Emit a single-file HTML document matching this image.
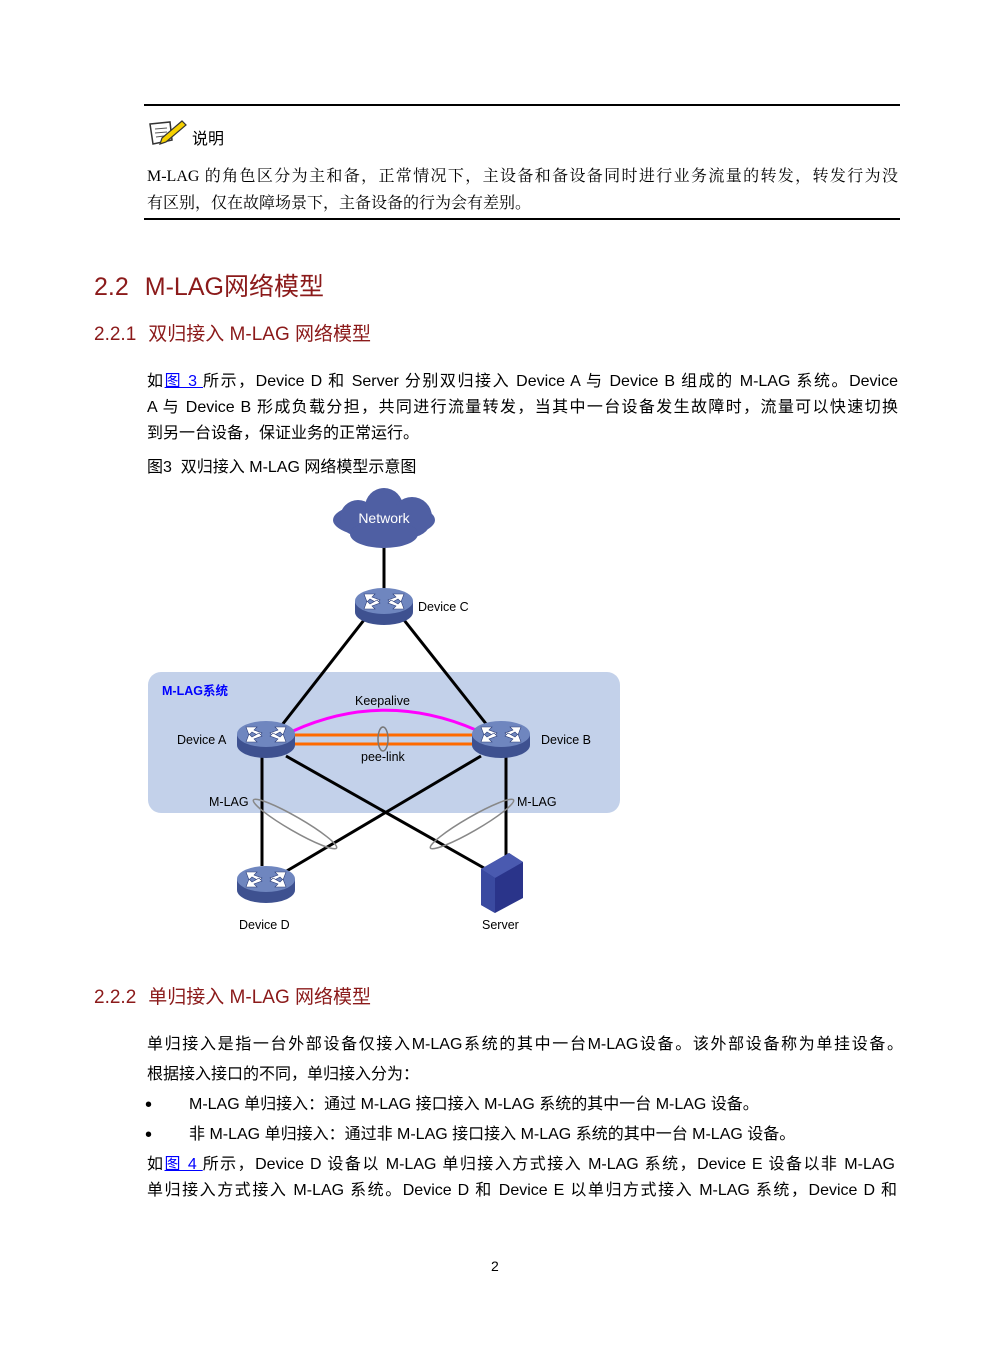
<!DOCTYPE html>
<html><head><meta charset="utf-8">
<style>
body{margin:0;background:#fff;}
#p{position:relative;width:992px;height:1347px;overflow:hidden;font-family:"Liberation Sans","Noto Sans CJK SC",sans-serif;color:#000;}
.t{position:absolute;white-space:nowrap;font-size:16px;line-height:20px;}
.j{width:751px;text-align:justify;text-align-last:justify;white-space:normal;}
.h{color:#8b1a1a;}
a{color:#00f;text-decoration:underline;}
.serif{font-family:"Liberation Serif","Noto Serif CJK SC",serif;}
</style></head><body><div id="p">
<div style="position:absolute;left:144px;top:104px;width:756px;height:2px;background:#000"></div>
<svg style="position:absolute;left:148px;top:118px" width="42" height="30" viewBox="0 0 42 30">
<polygon points="2,6 22,4 24,22 5,26" fill="#fff" stroke="#333" stroke-width="1.5"/>
<line x1="7" y1="11" x2="19" y2="10" stroke="#555"/><line x1="7" y1="15" x2="19" y2="14" stroke="#555"/><line x1="8" y1="19" x2="16" y2="18" stroke="#555"/>
<polygon points="14,20 34,3 38,7 18,24 12,26" fill="#f5d000" stroke="#333" stroke-width="1.2"/>
</svg>
<div class="t" style="left:192px;top:130px;font-size:16px">说明</div>
<div class="t j serif" style="left:147px;top:167px;font-size:16px">M-LAG 的角色区分为主和备，正常情况下，主设备和备设备同时进行业务流量的转发，转发行为没</div>
<div class="t serif" style="left:147px;top:194px;font-size:16px">有区别，仅在故障场景下，主备设备的行为会有差别。</div>
<div style="position:absolute;left:144px;top:218px;width:756px;height:2px;background:#000"></div>

<div class="t h" style="left:94px;top:272px;font-size:25px;line-height:30px">2.2<span style="display:inline-block;width:16px"></span>M-LAG网络模型</div>
<div class="t h" style="left:94px;top:324px;font-size:19px;line-height:22px">2.2.1<span style="display:inline-block;width:12px"></span>双归接入 M-LAG 网络模型</div>

<div class="t j" style="left:147px;top:372px">如<a>图 3 </a>所示，Device D 和 Server 分别双归接入 Device A 与 Device B 组成的 M-LAG 系统。Device</div>
<div class="t j" style="left:147px;top:398px">A 与 Device B 形成负载分担，共同进行流量转发，当其中一台设备发生故障时，流量可以快速切换</div>
<div class="t" style="left:147px;top:424px">到另一台设备，保证业务的正常运行。</div>
<div class="t" style="left:147px;top:458px">图3&nbsp;&nbsp;双归接入 M-LAG 网络模型示意图</div>

<svg style="position:absolute;left:0;top:480px" width="992" height="470" viewBox="0 480 992 470">
<defs>
<g id="r">
<ellipse cx="0" cy="8" rx="29" ry="13" fill="#3e5190"/>
<rect x="-29" y="-3" width="58" height="11" fill="#3e5190"/>
<ellipse cx="0" cy="-3" rx="29" ry="13" fill="#6f86bf"/>
<g fill="#fff" stroke="#2c3d78" stroke-width="0.6">
<polygon points="-20,-10 -9,-10 -12,-7 -4,-4 -7,-1 -14,-5 -17,-2"/>
<polygon points="20,-10 9,-10 12,-7 4,-4 7,-1 14,-5 17,-2"/>
<polygon points="-20,5 -9,5 -12,2 -4,-1 -7,-4 -14,0 -17,-3"/>
<polygon points="20,5 9,5 12,2 4,-1 7,-4 14,0 17,-3"/>
</g>
</g>
</defs>
<rect x="148" y="672" width="472" height="141" rx="13" fill="#c3d1ea"/>
<g stroke="#000" stroke-width="3" fill="none">
<line x1="384" y1="545" x2="384" y2="590"/>
<line x1="364" y1="620" x2="282" y2="725"/>
<line x1="404" y1="620" x2="487" y2="725"/>
<line x1="262" y1="755" x2="262" y2="866"/>
<line x1="286" y1="756" x2="484" y2="868"/>
<line x1="481" y1="756" x2="285" y2="872"/>
<line x1="506" y1="756" x2="506" y2="858"/>
</g>
<path d="M293,731 Q384,690 476,730" stroke="#ff00ff" stroke-width="3" fill="none"/>
<line x1="293" y1="735" x2="476" y2="735" stroke="#ff6a00" stroke-width="3"/>
<line x1="293" y1="744" x2="476" y2="744" stroke="#ff6a00" stroke-width="3"/>
<ellipse cx="383" cy="739" rx="5" ry="12" fill="none" stroke="#777" stroke-width="1.5"/>
<ellipse cx="295" cy="824" rx="48" ry="7" transform="rotate(30 295 824)" fill="none" stroke="#888" stroke-width="1.5"/>
<ellipse cx="472" cy="824" rx="48" ry="7" transform="rotate(-30 472 824)" fill="none" stroke="#888" stroke-width="1.5"/>
<g fill="#4f5fa3">
<ellipse cx="384" cy="520" rx="51" ry="18"/>
<circle cx="358" cy="518" r="18"/><circle cx="384" cy="507" r="19"/><circle cx="412" cy="517" r="20"/>
<ellipse cx="384" cy="534" rx="34" ry="14"/>
</g>
<text x="384" y="523" font-size="14" fill="#fff" text-anchor="middle" font-family="Liberation Sans,sans-serif">Network</text>
<use href="#r" x="384" y="604"/>
<use href="#r" x="266" y="737"/>
<use href="#r" x="501" y="737"/>
<use href="#r" x="266" y="882"/>
<polygon points="481,869 509,853 523,862 523,898 495,913 481,905" fill="#2a348a"/>
<polygon points="481,869 509,853 523,862 495,878" fill="#4a5ab0"/>
<polygon points="481,869 495,878 495,913 481,905" fill="#3a4aa0"/>
<g font-family="Liberation Sans,sans-serif" font-size="12.5" fill="#000">
<text x="418" y="611">Device C</text>
<text x="177" y="744">Device A</text>
<text x="541" y="744">Device B</text>
<text x="355" y="705">Keepalive</text>
<text x="361" y="761">pee-link</text>
<text x="209" y="806">M-LAG</text>
<text x="517" y="806">M-LAG</text>
<text x="239" y="929">Device D</text>
<text x="482" y="929">Server</text>
<text x="162" y="695" fill="#0000ff" font-weight="bold" font-family="Liberation Sans,Noto Sans CJK SC,sans-serif">M-LAG系统</text>
</g>
</svg>

<div class="t h" style="left:94px;top:987px;font-size:19px;line-height:22px">2.2.2<span style="display:inline-block;width:12px"></span>单归接入 M-LAG 网络模型</div>
<div class="t j" style="left:147px;top:1035px;width:756px">单归接入是指一台外部设备仅接入M-LAG系统的其中一台M-LAG设备。该外部设备称为单挂设备。</div>
<div class="t" style="left:147px;top:1065px">根据接入接口的不同，单归接入分为：</div>
<div class="t" style="left:145px;top:1095px;font-size:20px">•</div>
<div class="t" style="left:189px;top:1095px">M-LAG 单归接入：通过 M-LAG 接口接入 M-LAG 系统的其中一台 M-LAG 设备。</div>
<div class="t" style="left:145px;top:1125px;font-size:20px">•</div>
<div class="t" style="left:189px;top:1125px">非 M-LAG 单归接入：通过非 M-LAG 接口接入 M-LAG 系统的其中一台 M-LAG 设备。</div>
<div class="t j" style="left:147px;top:1155px;width:748px">如<a>图 4 </a>所示，Device D 设备以 M-LAG 单归接入方式接入 M-LAG 系统，Device E 设备以非 M-LAG</div>
<div class="t j" style="left:147px;top:1181px;width:750px">单归接入方式接入 M-LAG 系统。Device D 和 Device E 以单归方式接入 M-LAG 系统，Device D 和</div>
<div class="t" style="left:491px;top:1256px;font-size:14px">2</div>
</div></body></html>
